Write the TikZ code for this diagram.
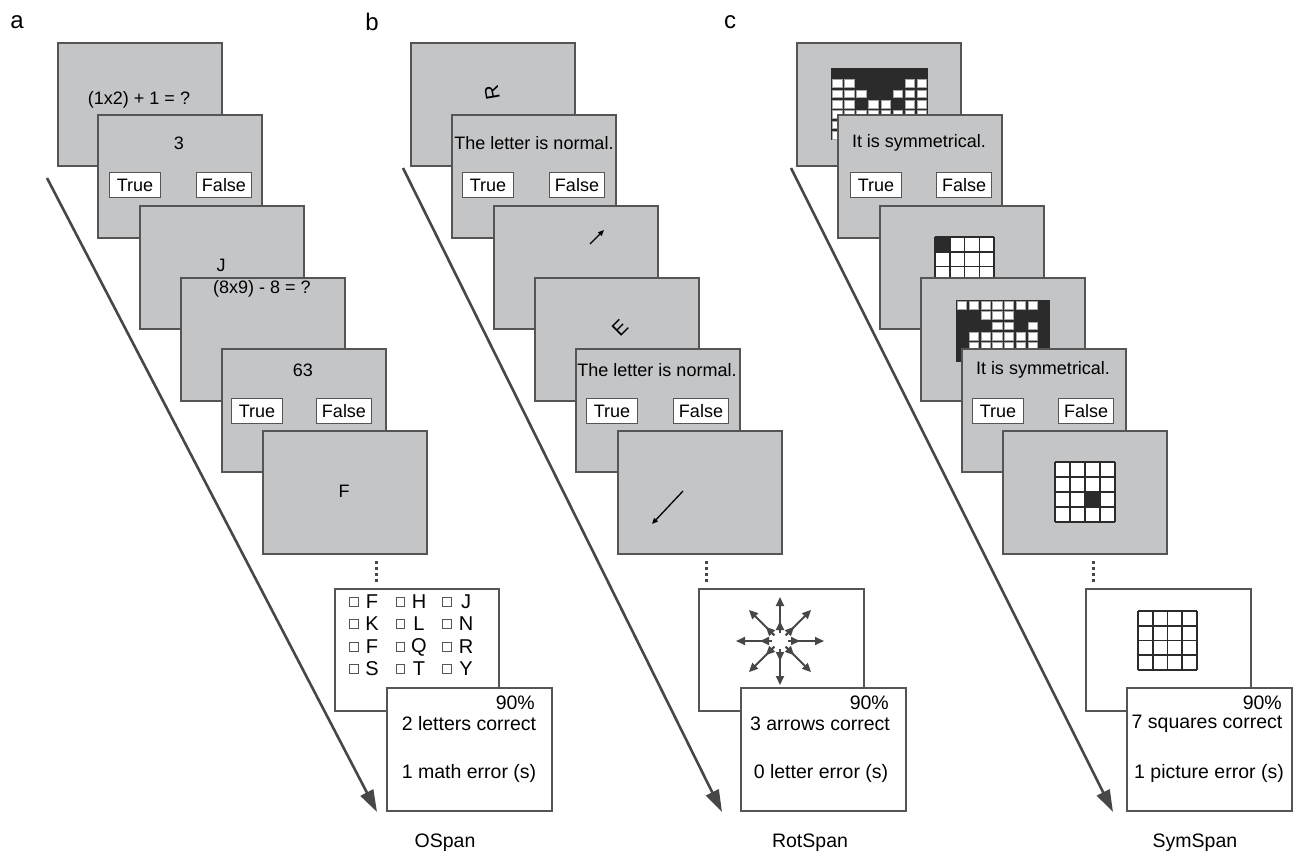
\documentclass[tikz,border=0pt]{standalone}
\usepackage{fontspec}
\setmainfont{Liberation Sans}
\usetikzlibrary{arrows.meta}
\definecolor{scrgray}{HTML}{C4C5C7}
\definecolor{edge}{HTML}{555555}
\definecolor{ink}{HTML}{2B2B2B}
\definecolor{arr}{HTML}{474747}
\tikzset{
  screen/.style={draw=edge, line width=1.8pt, fill=scrgray, anchor=north west,
    minimum width=164pt, minimum height=123pt, inner sep=0pt},
  wscreen/.style={screen, fill=white},
  btn/.style={draw=edge, line width=1.3pt, fill=white, minimum width=51pt,
    minimum height=25pt, inner sep=0pt, font=\fontsize{18}{20}\selectfont},
  fbtn/.style={btn, minimum width=55pt},
  txt/.style={font=\fontsize{18}{20}\selectfont, inner sep=0pt},
  bigtxt/.style={font=\fontsize{20}{22}\selectfont, inner sep=0pt},
  rtxt/.style={font=\fontsize{19.5}{22}\selectfont, inner sep=0pt},
  lbl/.style={font=\fontsize{19.5}{22}\selectfont, inner sep=0pt},
  plbl/.style={font=\fontsize{24}{26}\selectfont, inner sep=0pt},
  timeline/.style={draw=arr, line width=2.6pt, -{Triangle[length=22pt,width=14pt]}},
  chk/.style={draw=edge, line width=1pt, fill=white, minimum size=8.5pt, inner sep=0pt},
  smallarrow/.style={draw=black, line width=1.3pt, -{Triangle[length=6pt,width=5pt]}},
  stararrow/.style={draw=arr, line width=1.8pt, -{Triangle[length=9pt,width=8pt]}},
  ellip/.style={draw=arr, line width=3pt, dash pattern=on 3pt off 3pt},
  gridline/.style={draw=ink, line width=1.6pt},
}
% symmetric picture: x0,y0,cellw,cellh,nrows,rows
\newcommand{\symgrid}[6]{%
  \fill[ink] (#1,#2) rectangle ({#1+8*#3},{#2+#5*#4});
  \foreach \row [count=\r from 0] in {#6} {
    \foreach \v [count=\c from 0] in \row {
      \ifnum\v=1
        \fill[white, draw=gray!70, line width=0.4pt]
          ({#1+\c*#3+1.3},{#2+\r*#4+1.3}) rectangle ({#1+(\c+1)*#3-1.3},{#2+(\r+1)*#4-1.3});
      \fi
    }
  }
}
% 4x4 grid: x0,y0,cell,blackcol,blackrow (-1 for none)
\newcommand{\sqgrid}[5]{%
  \fill[white] (#1,#2) rectangle ({#1+4*#3},{#2+4*#3});
  \ifnum#4>-1
    \fill[ink] ({#1+#4*#3},{#2+#5*#3}) rectangle ({#1+(#4+1)*#3},{#2+(#5+1)*#3});
  \fi
  \foreach \k in {0,1,2,3,4} {
    \draw[gridline] ({#1+\k*#3},#2) -- ({#1+\k*#3},{#2+4*#3});
    \draw[gridline] (#1,{#2+\k*#3}) -- ({#1+4*#3},{#2+\k*#3});
  }
}
\begin{document}
\begin{tikzpicture}[x=1pt,y=-1pt]
\useasboundingbox (0,0) rectangle (1299,856);

% panel letters
\node[plbl] (la) at (17,22) {a};
\node[plbl] (lb) at (372,22) {b};
\node[plbl] (lc) at (730,22) {c};

% ================= panel a =================
\node[screen] (a1) at (57,42) {};
\node[txt] (a1t) at (139,100) {(1x2) + 1 = ?};
\node[screen] (a2) at (97,114) {};
\node[txt] (a2t) at (179,143) {3};
\node[btn] (a2y) at (135,185) {True};
\node[fbtn] (a2n) at (224,185) {False};
\node[screen] (a3) at (139,205) {};
\node[txt] (a3t) at (221,265) {J};
\node[screen] (a4) at (180,277) {};
\node[txt] (a4t) at (262,289) {(8x9) - 8 = ?};
\node[screen] (a5) at (221,348) {};
\node[txt] (a5t) at (303,370) {63};
\node[btn] (a5y) at (257,411) {True};
\node[fbtn] (a5n) at (344,411) {False};
\node[screen] (a6) at (262,430) {};
\node[txt] (a6t) at (344,491) {F};

\draw[ellip] (376,561) -- (376,585);

\node[wscreen, minimum height=122pt] (ar) at (334,588) {};
\foreach \lt/\cx/\cy [count=\i] in {F/0/602,H/1/602,J/2/602,K/0/624,L/1/624,N/2/624,
    F/0/647,Q/1/647,R/2/647,S/0/669,T/1/669,Y/2/669} {
  \node[chk] (ac\i) at ({354+\cx*46.5},\cy) {};
  \node[bigtxt] (al\i) at ({372+\cx*47},\cy) {\lt};
}
\node[wscreen, minimum width=165pt] (as) at (386,687) {};
\node[rtxt, anchor=east] (as1) at (535,703) {90\%};
\node[rtxt] (as2) at (469,724) {2 letters correct};
\node[rtxt] (as3) at (469,773) {1 math error (s)};
\node[lbl] (oname) at (445,843) {OSpan};

% ================= panel b =================
\node[screen] (b1) at (410,42) {};
\node[bigtxt, rotate=100] (b1t) at (492,93) {R};
\node[screen] (b2) at (451,114) {};
\node[txt] (b2t) at (534,143) {The letter is normal.};
\node[btn] (b2y) at (488,185) {True};
\node[fbtn] (b2n) at (577,185) {False};
\node[screen] (b3) at (493,205) {};
\coordinate (b3a) at (590,244);
\coordinate (b3b) at (604,230);
\draw[smallarrow] (b3a) -- (b3b);
\node[screen] (b4) at (534,277) {};
\node[bigtxt, rotate=45] (b4t) at (620,328) {E};
\node[screen] (b5) at (575,348) {};
\node[txt] (b5t) at (657,370) {The letter is normal.};
\node[btn] (b5y) at (612,411) {True};
\node[fbtn] (b5n) at (701,411) {False};
\node[screen] (b6) at (617,430) {};
\coordinate (b6a) at (683,491);
\coordinate (b6b) at (652,524);
\draw[smallarrow] (b6a) -- (b6b);

\draw[ellip] (706,561) -- (706,585);

\node[wscreen, minimum width=165pt, minimum height=122pt] (br) at (698,588) {};
\coordinate (st) at (780,641);
\begin{scope}[shift={(st)}]
  \foreach \a in {0,45,...,315} {
    \draw[stararrow] (\a:8) -- (\a:44);
    \draw[stararrow] (\a:8) -- (\a:20);
  }
\end{scope}
\node[wscreen, minimum width=165pt] (bs) at (740,687) {};
\node[rtxt, anchor=east] (bs1) at (889,703) {90\%};
\node[rtxt] (bs2) at (820,724) {3 arrows correct};
\node[rtxt] (bs3) at (821,773) {0 letter error (s)};
\node[lbl] (rname) at (810,843) {RotSpan};

% ================= panel c =================
\node[screen] (c1) at (796,42) {};
\symgrid{831}{68}{12.1}{10.3}{7}{{0,0,0,0,0,0,0,0},{1,1,0,0,0,0,1,1},{1,1,1,0,0,1,1,1},{1,1,0,1,1,0,1,1},{1,1,1,1,1,1,1,1},{1,1,1,1,1,1,1,1},{1,1,1,1,1,1,1,1}}
\node[screen] (c2) at (837,114) {};
\node[txt] (c2t) at (919,143) {It is symmetrical.};
\node[btn] (c2y) at (876,185) {True};
\node[fbtn] (c2n) at (964,185) {False};
\node[screen] (c3) at (879,205) {};
\sqgrid{935}{237}{14.8}{0}{0}
\node[screen] (c4) at (920,277) {};
\symgrid{956}{300}{11.75}{10.3}{6}{{1,1,1,1,1,1,1,0},{0,0,1,1,1,0,0,0},{0,0,0,1,1,0,1,0},{0,1,1,1,1,1,1,0},{0,1,1,1,1,1,1,0},{0,0,0,0,0,0,0,0}}
\node[screen] (c5) at (961,348) {};
\node[txt] (c5t) at (1043,370) {It is symmetrical.};
\node[btn] (c5y) at (998,411) {True};
\node[fbtn] (c5n) at (1086,411) {False};
\node[screen] (c6) at (1002,430) {};
\sqgrid{1055}{462}{15}{2}{2}

\draw[ellip] (1093,561) -- (1093,585);

\node[wscreen, minimum width=165pt, minimum height=122pt] (cr) at (1085,588) {};
\sqgrid{1138}{611}{14.7}{-1}{-1}
\node[wscreen, minimum width=165pt] (cs) at (1126,687) {};
\node[rtxt, anchor=east] (cs1) at (1282,703) {90\%};
\node[rtxt] (cs2) at (1207,724) {7 squares correct};
\node[rtxt] (cs3) at (1209,773) {1 picture error (s)};
\node[lbl] (sname) at (1195,843) {SymSpan};

% ================= timelines =================
\coordinate (ta0) at (47,178);
\coordinate (ta1) at (377,812);
\coordinate (tb0) at (403,168);
\coordinate (tb1) at (722,812);
\coordinate (tc0) at (791,168);
\coordinate (tc1) at (1113,812);
\draw[timeline] (ta0) -- (ta1);
\draw[timeline] (tb0) -- (tb1);
\draw[timeline] (tc0) -- (tc1);
\end{tikzpicture}
\end{document}
